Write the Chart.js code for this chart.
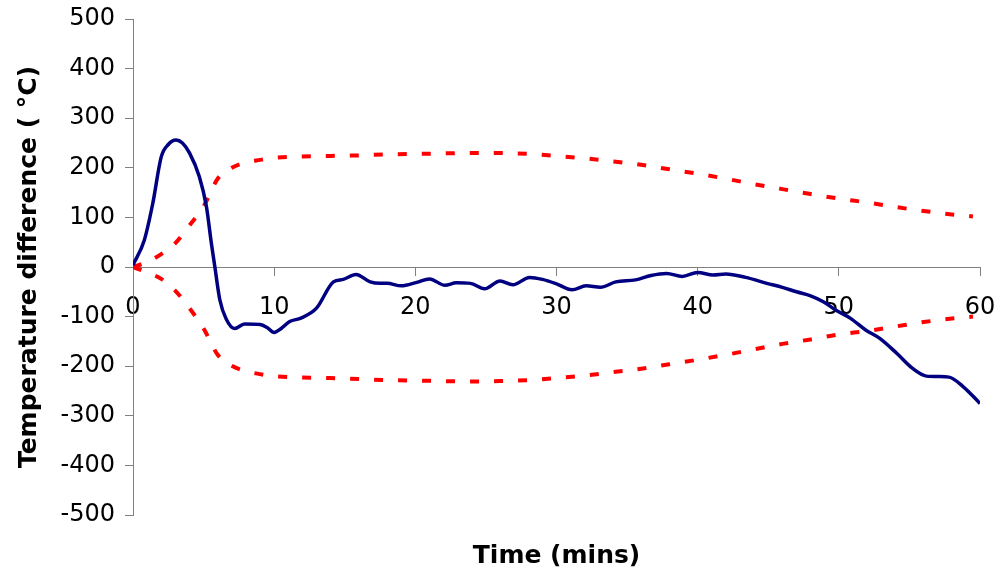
<!DOCTYPE html>
<html><head><meta charset="utf-8">
<script src="https://cdn.jsdelivr.net/npm/chart.js@4/dist/chart.umd.min.js"></script>
<style>html,body{margin:0;padding:0;background:#fff}#wrap{width:1000px;height:571px}</style>
</head><body><div id="wrap"><canvas id="c" width="1000" height="571"></canvas></div>
<script>
const blueTime = [0,0.8,1.4,2.0,2.5,3.05,3.5,4.0,4.7,5.2,5.55,5.8,6.15,6.6,7.2,7.9,9.0,9.5,10.0,10.5,11.1,11.9,13.0,14.2,14.9,15.8,16.8,17.5,18.0,19.0,20.1,21.0,22.1,22.9,23.9,24.9,26.0,26.9,28.1,29.0,30.0,31.1,32.1,33.1,34.2,35.6,36.7,37.8,38.9,40.0,41.1,42.0,43.4,44.9,46.0,47.0,48.0,48.9,49.8,50.8,51.9,52.9,54.1,55.2,56.2,57.1,57.8,58.8,60];
const blueTemp = [4,54,128,222,247,256,250,230,182,122,48,0,-66,-105,-124,-115,-116,-122,-132,-124,-110,-103,-83,-30,-25,-15,-30,-33,-33,-38,-31,-24,-37,-32,-33,-44,-28,-36,-21,-25,-34,-46,-38,-41,-30,-26,-17,-13,-19,-11,-16,-14,-21,-33,-41,-50,-58,-70,-87,-103,-127,-144,-174,-204,-220,-221,-222,-241,-275];
const envTime = [0,1,2,3,4,5,6,7,8,9,10,12,14,16,18,20,22,24,26,28,30,32,34,36,38,40,42,44,46,48,50,52,54,56,58,59.5];
const envUpper = [0,10,26,48,84,122,178,200,211,216,220,223,224,225,227,228,229,230,230,228,224,219,213,206,197,188,178,167,157,147,138,130,121,113,106,102];
const envLower = [0,-11,-24,-48,-83,-124,-177,-199,-210,-216,-220,-223,-224,-226,-228,-229,-230,-231,-230,-228,-224,-219,-212,-205,-196,-187,-177,-166,-155,-146,-136,-129,-120,-111,-104,-100];
const xTicks = [0,10,20,30,40,50,60];
const yTicks = [-500,-400,-300,-200,-100,0,100,200,300,400,500];
const xTitle = 'Time (mins)';
const yTitle = 'Temperature difference ( °C)';

Chart.defaults.font.family = '"DejaVu Sans", Verdana, sans-serif';
const pts = (xs, ys) => xs.map((x, i) => ({x: x, y: ys[i]}));

new Chart(document.getElementById('c'), {
  type: 'line',
  data: {
    datasets: [
      {data: pts(blueTime, blueTemp), borderColor: '#000080', borderWidth: 3.5, pointRadius: 0, cubicInterpolationMode: 'monotone', fill: false},
      {data: pts(envTime, envUpper), borderColor: '#FF0000', borderWidth: 4, borderDash: [9, 15], borderCapStyle: 'butt', pointRadius: 0, cubicInterpolationMode: 'monotone', fill: false},
      {data: pts(envTime, envLower), borderColor: '#FF0000', borderWidth: 4, borderDash: [9, 15], borderCapStyle: 'butt', pointRadius: 0, cubicInterpolationMode: 'monotone', fill: false}
    ]
  },
  options: {
    responsive: false,
    animation: false,
    layout: {padding: {left: 14, right: 20, top: 19, bottom: 0}},
    plugins: {
      legend: {display: false},
      tooltip: {enabled: false},
      title: {display: true, text: xTitle, position: 'bottom', fullSize: false, color: '#000',
        font: {size: 25, weight: 'bold'}, padding: {top: 26, bottom: 0}}
    },
    scales: {
      x: {
        type: 'linear', min: 0, max: 60, position: {y: 0},
        afterBuildTicks: s => { s.ticks = xTicks.map(v => ({value: v})); },
        afterFit: s => { s.paddingLeft = 0; s.paddingRight = 0; },
        ticks: {color: '#000', font: {size: 24}, padding: 18, maxRotation: 0, autoSkip: false},
        grid: {drawOnChartArea: false, tickLength: 8, color: '#808080'},
        border: {color: '#808080', width: 1}
      },
      y: {
        type: 'linear', min: -500, max: 500,
        afterBuildTicks: s => { s.ticks = yTicks.map(v => ({value: v})); },
        afterFit: s => { s.width = 119; s.paddingTop = 0; s.paddingBottom = 0; },
        ticks: {color: '#000', font: {size: 24}, padding: 10, autoSkip: false},
        grid: {drawOnChartArea: false, tickLength: 8, color: '#808080'},
        border: {color: '#808080', width: 1},
        title: {display: true, text: yTitle, color: '#000', font: {size: 25, weight: 'bold'}, padding: {top: 0, bottom: 0}}
      }
    }
  }
});
</script>
</body></html>
